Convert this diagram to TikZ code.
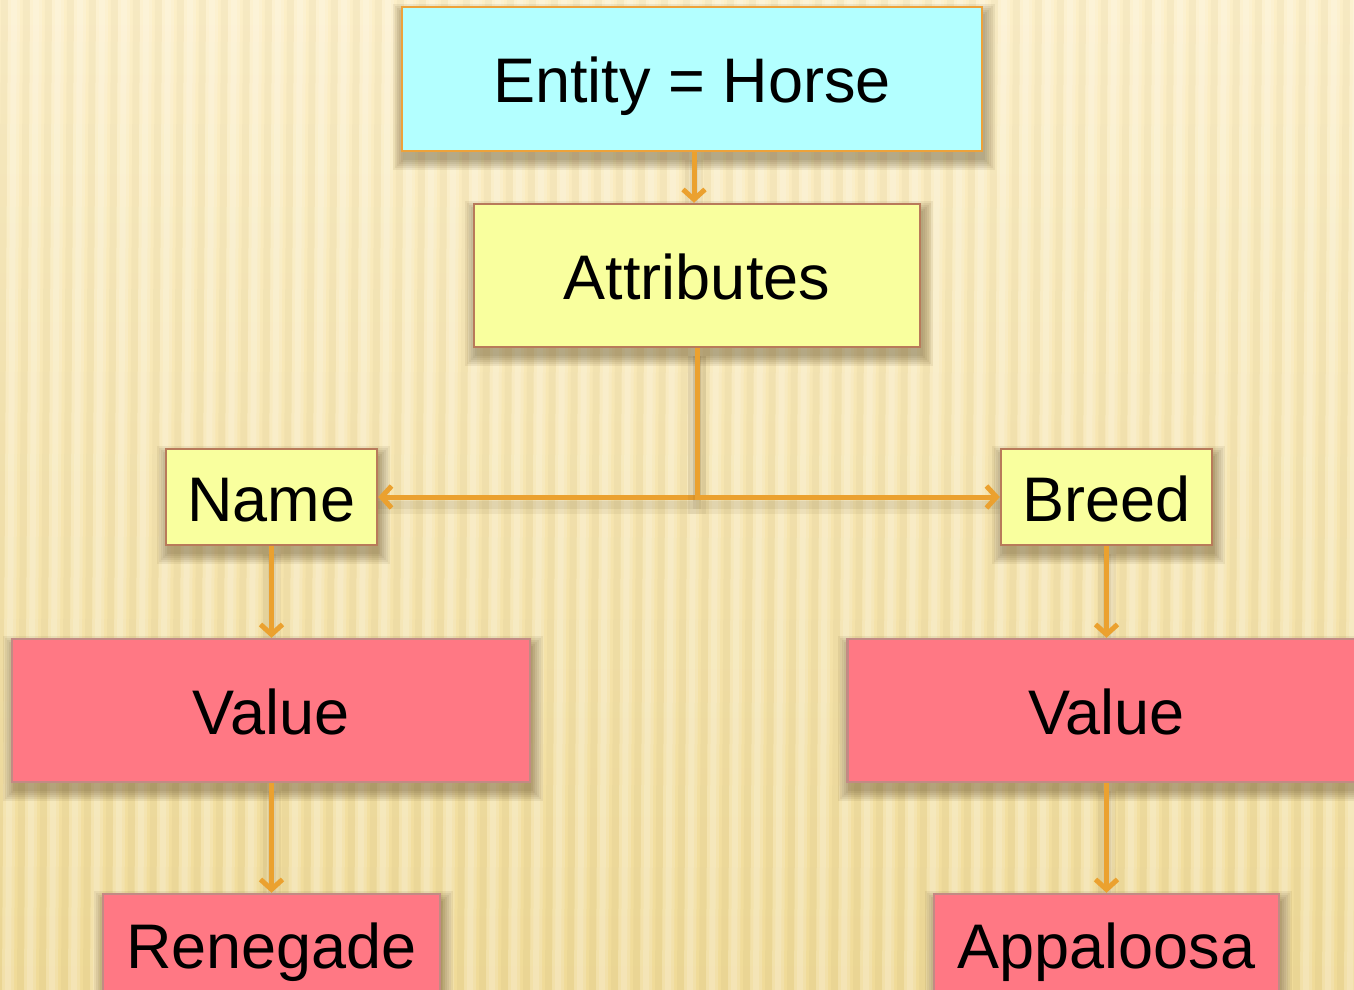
\documentclass[tikz,border=0pt]{standalone}
\usepackage{fontspec}
\setmainfont{Liberation Sans}
\usetikzlibrary{arrows.meta,calc}
\definecolor{bgtop}{HTML}{FCEFC8}
\definecolor{bgbot}{HTML}{F0DB98}
\definecolor{arrowc}{HTML}{EBA12F}
\definecolor{entfill}{HTML}{B3FFFF}
\definecolor{entdraw}{HTML}{EDA23A}
\definecolor{attfill}{HTML}{F9FF9E}
\definecolor{attdraw}{HTML}{B87A5A}
\definecolor{valfill}{HTML}{FF7884}
\definecolor{valdraw}{HTML}{C28A84}
\definecolor{shadowc}{HTML}{5E4A25}
\pgfdeclarelayer{bg}
\pgfdeclarelayer{shadow}
\pgfdeclarelayer{front}
\pgfsetlayers{bg,shadow,main,front}
\tikzset{
  box/.style={rectangle, inner sep=0pt, line width=1.2pt, text height=24pt, text depth=0pt,
    font=\fontsize{31.5}{36}\selectfont},
  entbox/.style={box, fill=entfill, draw=entdraw},
  attbox/.style={box, fill=attfill, draw=attdraw},
  valbox/.style={box, fill=valfill, draw=valdraw},
  arr/.style={draw=arrowc, line width=2.5pt, -{Straight Barb[length=5pt,width=11pt]},
    preaction={draw=shadowc, draw opacity=0.07, line width=9pt, -, transform canvas={yshift=-4pt}},
    preaction={draw=shadowc, draw opacity=0.08, line width=4pt, -, transform canvas={yshift=-4pt}}},
  shadowpiece/.style={fill=shadowc, opacity=0.085},
}
\newcommand\boxshadow[1]{%
  \foreach \e in {0,2,4,6,8,10} {
    \fill[shadowpiece] ($(#1.north west)+({2-\e},{8-\e})$) rectangle ($(#1.south east)+({2+\e},{8+\e})$);
  }%
}
\begin{document}
\begin{tikzpicture}[x=0.5pt,y=-0.5pt]
\useasboundingbox (0,0) rectangle (1354,990);
% background
\begin{pgfonlayer}{bg}
\shade[top color=bgtop, bottom color=bgbot] (0,0) rectangle (1354,990);
\foreach \i in {0,...,64} {
  \fill[white, opacity=0.16] ({\i*22-14},0) -- ({\i*22-2},0) -- ({\i*22-8},990) -- ({\i*22-20},990) -- cycle;
  \fill[white, opacity=0.16] ({\i*22-11},0) -- ({\i*22-5},0) -- ({\i*22-11},990) -- ({\i*22-17},990) -- cycle;
  \fill[shadowc, opacity=0.035] ({\i*22+1},0) -- ({\i*22+8},0) -- ({\i*22+2},990) -- ({\i*22-5},990) -- cycle;
}
\end{pgfonlayer}
% nodes
\begin{pgfonlayer}{front}
\node[entbox, minimum width=290pt, minimum height=72pt] (entity) at (692,79) {Entity = Horse};
\node[attbox, minimum width=223pt, minimum height=71.5pt] (attr) at (697,275.5) {Attributes};
\node[attbox, minimum width=105.5pt, minimum height=48pt] (name) at (271.5,497) {Name};
\node[attbox, minimum width=105.5pt, minimum height=48pt] (breed) at (1106.5,497) {Breed};
\node[valbox, minimum width=259pt, minimum height=71.5pt] (val1) at (271,710.5) {Value};
\node[valbox, minimum width=259pt, minimum height=71.5pt] (val2) at (1106.5,710.5) {Value};
\node[valbox, minimum width=168.5pt, minimum height=50pt] (ren) at (271.5,944) {Renegade};
\node[valbox, minimum width=172.5pt, minimum height=50pt] (app) at (1106.5,944) {Appaloosa};
\end{pgfonlayer}
\begin{pgfonlayer}{shadow}
\boxshadow{entity}
\boxshadow{attr}
\boxshadow{name}
\boxshadow{breed}
\boxshadow{val1}
\boxshadow{val2}
\boxshadow{ren}
\boxshadow{app}
\end{pgfonlayer}
% connectors
\coordinate (c1) at (694,0);
\draw[arr] (entity.south -| c1) -- (attr.north -| c1);
\draw[arr] (attr.south) |- (name.east);
\draw[arr] (attr.south) |- (breed.west);
\draw[arr] (name.south) -- (val1.north -| name.south);
\draw[arr] (breed.south) -- (val2.north -| breed.south);
\draw[arr] (val1.south -| ren.north) -- (ren.north);
\draw[arr] (val2.south -| app.north) -- (app.north);
\end{tikzpicture}
\end{document}
